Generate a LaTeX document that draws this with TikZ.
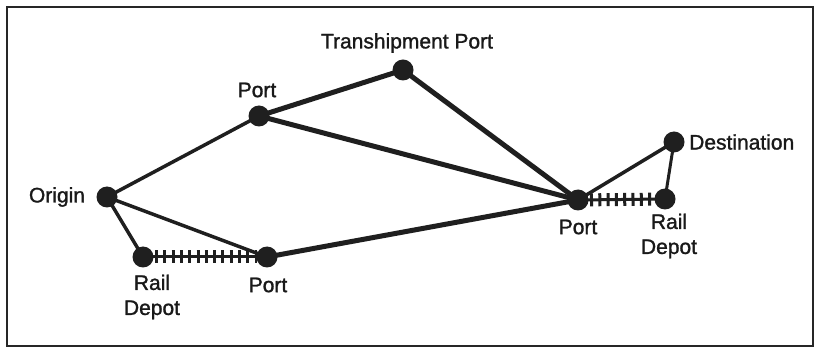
\documentclass[tikz,border=0pt]{standalone}
\usepackage{fontspec}
\setmainfont{Liberation Sans}
\newfontfamily\lblfont[FakeBold=1.3]{Liberation Sans}
\begin{document}
\begin{tikzpicture}[x=1pt,y=-1pt,
  stop/.style={circle,fill=black!88,inner sep=0pt,minimum size=21pt},
  lbl/.style={font=\lblfont\fontsize{21}{25}\selectfont,text=black!90,inner sep=0pt,align=center},
  route/.style={line width=3.5pt,draw=black!88},
  sea/.style={line width=5pt,draw=black!88},
  railbase/.style={line width=3pt,draw=black!88},
  railties/.style={line width=13pt,draw=black!88,dash pattern=on 3pt off 5.3pt}]
\useasboundingbox (0,0) rectangle (818,352);
\fill[white] (0,0) rectangle (818,352);
\draw[line width=2pt,black!85] (7,7) rectangle (813,346);
% node positions
\coordinate (o) at (107,197);
\coordinate (pt) at (259,116);
\coordinate (tp) at (403,70);
\coordinate (rl) at (143,257);
\coordinate (pb) at (267,257);
\coordinate (pr) at (578,200);
\coordinate (rr) at (665,199);
\coordinate (d) at (674,142);
% connectors
\draw[route] (o) -- (pt);
\draw[route] (o) -- (rl);
\draw[route] (o) -- (pb);
\draw[sea] (pt) -- (tp);
\draw[sea] (pt) -- (pr);
\draw[sea] (tp) -- (pr);
\draw[sea] (pb) -- (pr);
\draw[route] (pr) -- (d);
\draw[line width=3pt,black!88] (d) -- (rr);
\draw[railbase] (rl) -- (pb);
\draw[railties,shorten <=12pt,shorten >=10pt] (rl) -- (pb);
\draw[railbase] (pr) -- (rr);
\draw[railties,shorten <=12pt,shorten >=10pt] (pr) -- (rr);
% stops
\node[stop] (no) at (o) {};
\node[stop] (npt) at (pt) {};
\node[stop] (ntp) at (tp) {};
\node[stop] (nrl) at (rl) {};
\node[stop] (npb) at (pb) {};
\node[stop] (npr) at (pr) {};
\node[stop] (nrr) at (rr) {};
\node[stop] (nd) at (d) {};
% labels
\node[lbl] (lo) at (57,197) {Origin};
\node[lbl] (lpt) at (257,90) {Port};
\node[lbl] (ltp) at (407,43) {Transhipment Port};
\node[lbl] (lrl) at (152,297) {Rail\\Depot};
\node[lbl] (lpb) at (268,285) {Port};
\node[lbl] (lpr) at (578,227) {Port};
\node[lbl] (lrr) at (669,236) {Rail\\Depot};
\node[lbl,anchor=west] (ld) at (689,142) {Destination};
\end{tikzpicture}
\end{document}
